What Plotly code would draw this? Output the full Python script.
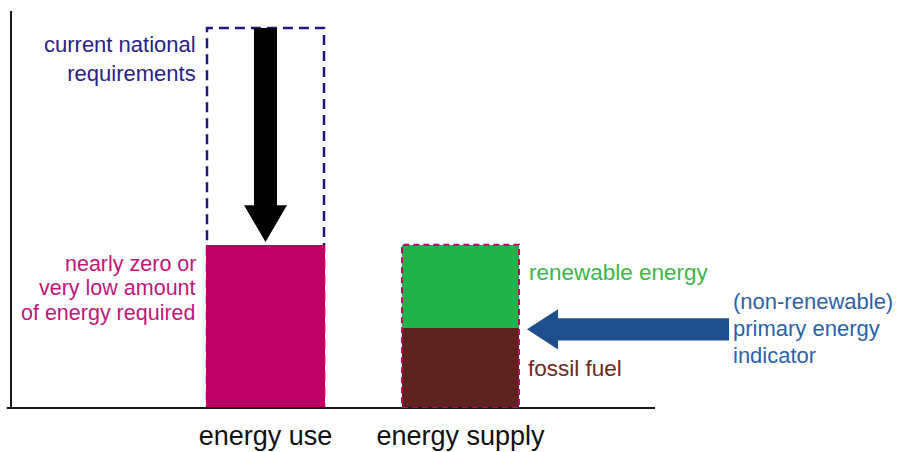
import plotly.graph_objects as go

# ---------------- data ----------------
categories = ["energy use", "energy supply"]
current_requirements = [100]      # dashed outline over "energy use"
nearly_zero = [43]                # nZEB energy use
fossil_fuel = [21]                # energy supply: fossil part
renewable = [22]                  # energy supply: renewable part

label_requirements = ["current national", "requirements"]
label_nzeb = ["nearly zero or", "very low amount", "of energy required"]
label_renewable = "renewable energy"
label_fossil = "fossil fuel"
label_indicator = ["(non-renewable)", "primary energy", "indicator"]

# ---------------- style ----------------
FONT = "Liberation Sans, Arial, sans-serif"
NAVY = "#2A2185"
NAVY_LINE = "#1E1A7A"
MAGENTA = "#BE0066"
MAGENTA_TXT = "#C0177A"
GREEN = "#22B04B"
GREEN_TXT = "#3DB54A"
BROWN = "#5E2220"
BROWN_TXT = "#6B2B26"
BLUE = "#1F4E8C"
BLUE_TXT = "#2E62A8"
AXIS = "#1A1A1A"

pos = list(range(len(categories)))
bw = 0.6
half = bw / 2

fig = go.Figure()
fig.add_bar(x=[pos[0]], y=nearly_zero, width=0.61,
            marker=dict(color=MAGENTA, line_width=0))
fig.add_bar(x=[pos[1]], y=fossil_fuel, width=bw,
            marker=dict(color=BROWN, line_width=0))
fig.add_bar(x=[pos[1]], y=renewable, width=bw,
            marker=dict(color=GREEN, line_width=0))

supply_total = fossil_fuel[0] + renewable[0]
req = current_requirements[0]
nz = nearly_zero[0]

shapes = []
# axis baseline (extends only under the bars)
shapes.append(dict(type="line", xref="paper", yref="paper", x0=-0.006, x1=0.7225,
                   y0=0, y1=0, line=dict(color=AXIS, width=2)))
# dashed outline of current requirements
shapes.append(dict(type="rect", xref="x", yref="y", layer="below",
                   x0=pos[0] - half, x1=pos[0] + half, y0=0, y1=req,
                   line=dict(color=NAVY_LINE, width=2.5, dash="10px,6px")))
# dashed outline of energy supply
shapes.append(dict(type="rect", xref="x", yref="y",
                   x0=pos[1] - half, x1=pos[1] + half, y0=0, y1=supply_total,
                   line=dict(color=MAGENTA, width=2, dash="6px,4px")))

# black downward block arrow from requirements to nZEB level
cx = pos[0]
sw, hw = 0.059, 0.11
tip = nz + 0.7
hb = tip + 9.7
black_path = (f"M {cx - sw},{req} L {cx + sw},{req} L {cx + sw},{hb} L {cx + hw},{hb} "
              f"L {cx},{tip} L {cx - hw},{hb} L {cx - sw},{hb} Z")
shapes.append(dict(type="path", xref="x", yref="y", path=black_path,
                   fillcolor="black", line=dict(width=0)))

# blue leftward block arrow pointing at fossil fuel level
yc = fossil_fuel[0] - 0.3
tipx = pos[1] + half + 0.041
hx = tipx + 0.159
tail = 2.377
sh, hh = 2.9, 5.3
blue_path = (f"M {tipx},{yc} L {hx},{yc + hh} L {hx},{yc + sh} L {tail},{yc + sh} "
             f"L {tail},{yc - sh} L {hx},{yc - sh} L {hx},{yc - hh} Z")
shapes.append(dict(type="path", xref="x", yref="y", path=blue_path,
                   fillcolor=BLUE, line=dict(width=0)))

annotations = [
    dict(x=pos[0] - half, y=req, xref="x", yref="y", text="<br>".join(label_requirements),
         xanchor="right", yanchor="top", xshift=-9, yshift=-2, align="right",
         showarrow=False, font=dict(family=FONT, size=22, color=NAVY)),
    dict(x=pos[1] + half, y=supply_total, xref="x", yref="y", text=label_renewable,
         xanchor="left", yanchor="top", xshift=8, yshift=-13, align="left",
         showarrow=False, font=dict(family=FONT, size=22.5, color=GREEN_TXT)),
    dict(x=pos[1] + half, y=0, xref="x", yref="y", text=label_fossil,
         xanchor="left", yanchor="bottom", xshift=7, yshift=25, align="left",
         showarrow=False, font=dict(family=FONT, size=22.5, color=BROWN_TXT)),
]
# multi-line labels placed line by line (tighter line spacing than plotly default)
for i, line in enumerate(label_nzeb):
    annotations.append(dict(x=pos[0] - half, y=nz, xref="x", yref="y", text=line,
                            xanchor="right", yanchor="middle", xshift=-9,
                            yshift=-(19 + i * 24.7), showarrow=False,
                            font=dict(family=FONT, size=21.5, color=MAGENTA_TXT)))
for i, line in enumerate(label_indicator):
    annotations.append(dict(x=tail, y=yc, xref="x", yref="y", text=line,
                            xanchor="left", yanchor="middle", xshift=2,
                            yshift=28 - i * 27, showarrow=False,
                            font=dict(family=FONT, size=22, color=BLUE_TXT)))

fig.update_layout(
    width=902, height=452,
    margin=dict(l=12, r=0, t=11, b=44, pad=0),
    paper_bgcolor="white", plot_bgcolor="white",
    barmode="stack", bargap=0, showlegend=False,
    shapes=shapes, annotations=annotations,
    font=dict(family=FONT),
    xaxis=dict(range=[-1.3, 3.264], tickvals=pos, ticktext=categories,
               showline=False, showgrid=False, zeroline=False, ticks="",
               ticklabelstandoff=9,
               tickfont=dict(family=FONT, size=27, color="#111111"),
               automargin=False, fixedrange=True),
    yaxis=dict(range=[0, 104.5], showline=True, linecolor=AXIS, linewidth=2,
               showticklabels=False, showgrid=False, zeroline=False, ticks="",
               automargin=False, fixedrange=True),
)

# remove the browser's default 8px body margin so the figure fills the window exactly
fig.write_html("out.html", config={"displayModeBar": False},
               post_script="document.body.style.margin='0';")
